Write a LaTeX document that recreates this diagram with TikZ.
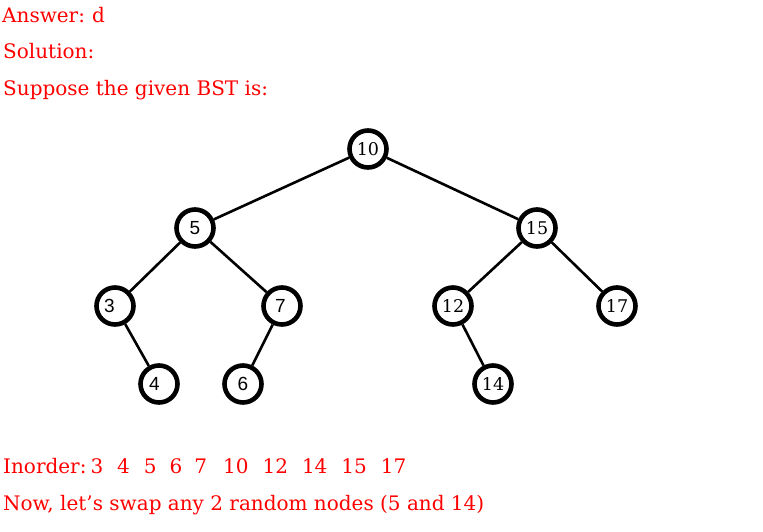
\documentclass[tikz,border=0pt]{standalone}
\usepackage{fontspec}
\setmainfont{DejaVu Serif}
\newfontfamily\lsans{Liberation Sans}
\begin{document}
\begin{tikzpicture}[x=1pt,y=-1pt,
  txt/.style={anchor=base west, inner sep=0pt, text=red, font=\fontsize{20}{24}\selectfont},
  bst/.style={circle, draw=black, line width=4.6pt, minimum size=37pt, inner sep=0pt, fill=white},
  sl/.style={font=\lsans\fontsize{19}{20}\selectfont},
  dl/.style={font=\fontsize{17.5}{20}\selectfont},
  edge/.style={line width=2.6pt, black}]
\useasboundingbox (0,0) rectangle (763,531);
\node[txt] (t1) at (2,22) {Answer:\hspace{-1.5pt} d};
\node[txt] (t2) at (3,58) {Solution:};
\node[txt] (t3) at (3,95) {Suppose the given BST is:};
\node[txt] (t4) at (3,473) {Inorder:\hspace{4pt}3\hspace{14pt}4\hspace{14pt}5\hspace{13pt}6\hspace{12pt}7\hspace{16pt}10\hspace{14pt}12\hspace{14pt}14\hspace{14pt}15\hspace{14pt}17};
\node[txt] (t5) at (3,510) {Now, let’s swap any 2 random nodes (5 and 14)};

\node[bst, dl] (n10) at (368,149) {10};
\node[bst, sl] (n5) at (195,228) {5};
\node[bst, dl] (n15) at (537,228) {15};
\node[bst, sl] (n3) at (115,306) {\hspace*{-11pt}3};
\node[bst, sl] (n7) at (282,306) {\hspace*{-3pt}7};
\node[bst, dl] (n12) at (453,306) {12};
\node[bst, dl] (n17) at (617,306) {17};
\node[bst, sl] (n4) at (159,384) {\hspace*{-9pt}4};
\node[bst, sl] (n6) at (243,384) {6};
\node[bst, dl] (n14) at (493,384) {14};

\draw[edge] (n10) -- (n5);
\draw[edge] (n10) -- (n15);
\draw[edge] (n5) -- (n3);
\draw[edge] (n5) -- (n7);
\draw[edge] (n15) -- (n12);
\draw[edge] (n15) -- (n17);
\draw[edge] (n3) -- (n4);
\draw[edge] (n7) -- (n6);
\draw[edge] (n12) -- (n14);
\end{tikzpicture}
\end{document}
